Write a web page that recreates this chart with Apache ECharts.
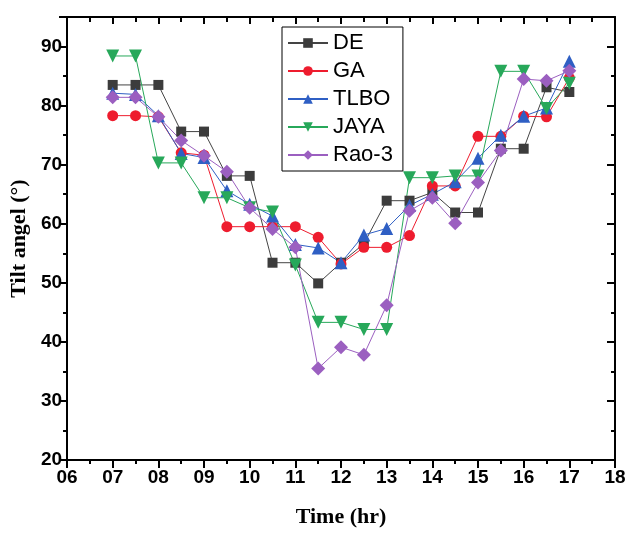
<!DOCTYPE html>
<html>
<head>
<meta charset="utf-8">
<script src="https://cdn.jsdelivr.net/npm/echarts@6/dist/echarts.min.js"></script>
<style>
  html, body { margin: 0; padding: 0; background: #fff; }
  #chart { width: 640px; height: 533px; }
</style>
</head>
<body>
<div id="chart"></div>
<script>
// time of day (hr)
var times = [7, 7.5, 8, 8.5, 9, 9.5, 10, 10.5, 11, 11.5, 12, 12.5, 13, 13.5, 14, 14.5, 15, 15.5, 16, 16.5, 17];
// tilt angle per algorithm (deg)
var deVals   = [83.5, 83.5, 83.5, 75.6, 75.6, 68.1, 68.1, 53.4, 53.4, 49.9, 53.4, 56.6, 63.9, 63.9, 65.3, 61.9, 61.9, 72.7, 72.7, 83.1, 82.3];
var gaVals   = [78.3, 78.3, 78.1, 72.0, 71.6, 59.5, 59.5, 59.5, 59.5, 57.7, 53.2, 56.0, 56.0, 58.0, 66.4, 66.4, 74.8, 74.8, 78.2, 78.1, 84.7];
var tlboVals = [82.1, 81.9, 78.3, 71.9, 71.2, 65.6, 63.3, 61.3, 56.5, 55.9, 53.4, 58.1, 59.2, 63.1, 65.0, 67.1, 71.1, 75.0, 78.2, 79.6, 87.5];
var jayaVals = [88.4, 88.4, 70.3, 70.3, 64.4, 64.4, 62.7, 62.0, 53.0, 43.3, 43.3, 42.1, 42.1, 67.8, 67.8, 68.1, 68.1, 85.8, 85.8, 79.5, 83.8];
var raoVals  = [81.4, 81.4, 78.1, 74.1, 71.5, 68.8, 62.7, 59.1, 56.0, 35.5, 39.1, 37.8, 46.2, 62.2, 64.4, 60.1, 67.0, 72.4, 84.5, 84.2, 85.9];

var seriesNames = ['DE', 'GA', 'TLBO', 'JAYA', 'Rao-3'];

function pairs(vals) {
  var out = [];
  for (var i = 0; i < times.length; i++) {
    out.push([times[i], vals[i]]);
  }
  return out;
}

function makeSeries(name, vals, symbol, size, color, lineColor, rotate) {
  return {
    name: name,
    type: 'line',
    data: pairs(vals),
    symbol: symbol,
    symbolSize: size,
    symbolRotate: rotate || 0,
    itemStyle: { color: color },
    lineStyle: { color: lineColor, width: 1 },
    emphasis: { disabled: true },
    animation: false
  };
}

var labelFont = { fontFamily: 'Liberation Sans', fontWeight: 'bold', fontSize: 19, color: '#000' };
var nameFont = { fontFamily: 'Liberation Serif', fontWeight: 'bold', fontSize: 22, color: '#000' };
var lineStyle = { color: '#000', width: 2 };

var chart = echarts.init(document.getElementById('chart'));
chart.setOption({
  backgroundColor: '#fff',
  animation: false,
  grid: { left: 65, right: 25, top: 17, bottom: 72 },
  legend: {
    orient: 'vertical',
    left: 282,
    top: 27,
    padding: [5, 10, 5, 5],
    borderColor: '#000',
    borderWidth: 1,
    itemWidth: 40,
    itemHeight: 12,
    itemGap: 6,
    textStyle: { fontFamily: 'Liberation Sans', fontSize: 22, lineHeight: 22, color: '#000' },
    data: seriesNames
  },
  xAxis: [{
    type: 'value',
    min: 6, max: 18, interval: 1,
    name: 'Time (hr)',
    nameLocation: 'middle',
    nameGap: 46,
    nameTextStyle: nameFont,
    axisLine: { show: true, lineStyle: lineStyle },
    axisTick: { show: true, length: 8, lineStyle: { width: 2, color: '#000' } },
    minorTick: { show: true, splitNumber: 2, length: 4, lineStyle: { width: 2, color: '#000' } },
    axisLabel: Object.assign({ margin: 8, formatter: function (v) { return (v < 10 ? '0' : '') + v; } }, labelFont),
    splitLine: { show: false }
  }, {
    type: 'value',
    position: 'top',
    min: 6, max: 18, interval: 1,
    axisLine: { show: true, onZero: false, lineStyle: lineStyle },
    axisTick: { show: true, inside: true, length: 7, lineStyle: { width: 2, color: '#000' } },
    minorTick: { show: true, splitNumber: 2, length: 5, lineStyle: { width: 2, color: '#000' } },
    axisLabel: { show: false },
    splitLine: { show: false }
  }],
  yAxis: [{
    type: 'value',
    min: 20, max: 95, interval: 10,
    name: 'Tilt angel (°)',
    nameLocation: 'middle',
    nameGap: 34,
    nameTextStyle: nameFont,
    axisLine: { show: true, lineStyle: lineStyle },
    axisTick: { show: true, length: 8, lineStyle: { width: 2, color: '#000' } },
    minorTick: { show: true, splitNumber: 2, length: 4, lineStyle: { width: 2, color: '#000' } },
    axisLabel: Object.assign({ margin: 5, showMaxLabel: false }, labelFont),
    splitLine: { show: false }
  }, {
    type: 'value',
    position: 'right',
    min: 20, max: 95, interval: 10,
    axisLine: { show: true, onZero: false, lineStyle: lineStyle },
    axisTick: { show: true, inside: true, length: 8, lineStyle: { width: 2, color: '#000' } },
    minorTick: { show: true, splitNumber: 2, length: 4, lineStyle: { width: 2, color: '#000' } },
    axisLabel: { show: false },
    splitLine: { show: false }
  }],
  series: [
    makeSeries('DE', deVals, 'rect', 10, '#3c3c3c', '#444444'),
    makeSeries('GA', gaVals, 'circle', 11, '#ee1c2e', '#ee1c2e'),
    makeSeries('TLBO', tlboVals, 'triangle', 13, '#2f5fc4', '#2f5fc4'),
    makeSeries('JAYA', jayaVals, 'triangle', 13, '#27a85a', '#27a85a', 180),
    makeSeries('Rao-3', raoVals, 'diamond', 14, '#9b5fc0', '#9b5fc0')
  ]
});
</script>
</body>
</html>
